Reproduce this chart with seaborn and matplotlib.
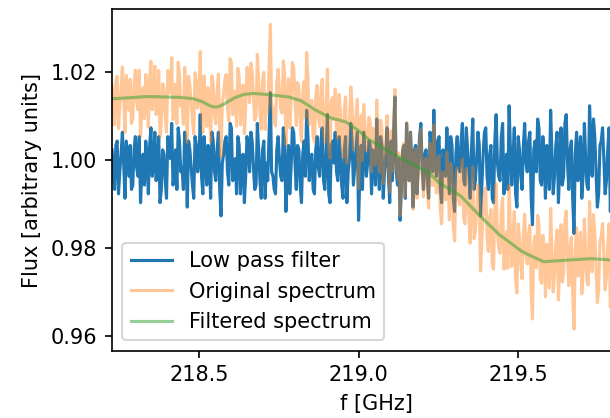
import matplotlib
matplotlib.use("Agg")
import matplotlib.pyplot as plt
import seaborn as sns
import numpy as np

# frequency channels of the spectrum (GHz)
freq = np.linspace(218.2256, 219.85, 400)

# high-frequency residual left after removing the smooth component
flux_lowpass = [
    1.0023, 0.9983, 0.9933, 1.0033, 1.0043, 0.9923, 0.9973, 1.0013, 1.0063, 0.9993,
    0.9913, 1.0043, 1.0003, 0.9963, 1.0033, 0.9933, 0.9943, 1.0023, 1.0053, 0.9983,
    0.9963, 1.0053, 0.9903, 0.9973, 1.0013, 0.9943, 1.0043, 1.0003, 0.9923, 1.0033,
    1.0073, 0.9963, 0.9983, 1.0063, 0.9953, 0.9993, 1.0053, 0.9903, 0.9933, 1.0023,
    1.0013, 0.9953, 0.9913, 1.0053, 1.0033, 1.0003, 1.0083, 0.9943, 0.9963, 1.0023,
    0.9933, 1.0073, 1.0043, 0.9973, 0.9983, 0.9933, 1.0063, 1.0013, 0.9893, 1.0043,
    1.0023, 0.9983, 0.9943, 0.9913, 1.0053, 1.0033, 0.9973, 0.9993, 1.0103, 0.9963,
    0.9923, 1.0053, 1.0003, 0.9943, 1.0033, 1.0013, 0.9913, 1.0063, 1.0043, 0.9973,
    0.9953, 1.0023, 1.0063, 0.9933, 0.9873, 0.9993, 1.0013, 1.0043, 1.0053, 0.9973,
    0.9943, 1.0083, 1.0073, 0.9953, 0.9963, 1.0003, 0.9923, 1.0053, 1.0033, 0.9923,
    1.0003, 1.0013, 0.9903, 0.9963, 1.0053, 1.0033, 0.9973, 1.0063, 1.0043, 0.9983,
    0.9933, 0.9943, 1.0083, 1.0023, 0.9953, 0.9913, 1.0023, 1.0043, 0.9913, 0.9993,
    0.9953, 1.0053, 1.0153, 0.9973, 0.9963, 0.9933, 0.9923, 1.0023, 1.0053, 1.0003,
    0.9963, 0.9953, 1.0073, 1.0043, 0.9883, 0.9973, 1.0033, 0.9923, 0.9983, 1.0073,
    1.0063, 0.9993, 0.9933, 1.0033, 1.0023, 0.9943, 0.9903, 1.0013, 1.0043, 0.9963,
    1.0113, 1.0053, 0.9953, 1.0003, 1.0013, 0.9933, 0.9923, 1.0023, 1.0053, 0.9983,
    0.9963, 1.0043, 1.0073, 0.9953, 0.9933, 1.0013, 1.0103, 0.9923, 0.9903, 1.0033,
    1.0043, 0.9993, 1.0063, 0.9973, 0.9953, 1.0053, 1.0013, 0.9943, 0.9913, 1.0023,
    1.0053, 0.9903, 0.9973, 1.0003, 1.0083, 1.0043, 0.9943, 0.9983, 1.0023, 1.0063,
    0.9863, 0.9963, 1.0033, 0.9933, 1.0063, 1.0013, 0.9963, 0.9993, 1.0043, 1.0033,
    0.9923, 1.0023, 1.0013, 0.9943, 1.0093, 1.0003, 0.9933, 1.0053, 1.0033, 0.9913,
    0.9973, 1.0013, 1.0073, 0.9963, 0.9903, 1.0043, 0.9953, 1.0063, 1.0143, 0.9973,
    0.9943, 1.0003, 0.9863, 0.9933, 1.0023, 1.0033, 0.9913, 1.0083, 1.0013, 0.9953,
    1.0063, 0.9993, 0.9893, 1.0023, 1.0033, 0.9923, 0.9983, 1.0053, 1.0083, 0.9983,
    0.9933, 1.0013, 1.0023, 0.9953, 0.9913, 1.0063, 1.0043, 0.9973, 1.0113, 0.9993,
    0.9963, 1.0043, 1.0053, 0.9933, 0.9903, 1.0023, 1.0003, 0.9963, 1.0073, 1.0003,
    0.9923, 1.0053, 1.0033, 0.9913, 0.9883, 1.0013, 1.0053, 0.9983, 0.9973, 1.0043,
    1.0083, 0.9953, 0.9943, 1.0073, 1.0023, 0.9973, 0.9913, 1.0023, 1.0093, 0.9933,
    0.9953, 1.0003, 1.0063, 1.0033, 0.9873, 0.9943, 1.0013, 1.0063, 1.0073, 0.9963,
    0.9933, 1.0013, 1.0033, 0.9913, 0.9903, 1.0043, 1.0103, 0.9993, 0.9963, 0.9953,
    1.0053, 1.0083, 0.9923, 0.9973, 1.0013, 0.9933, 1.0123, 1.0023, 0.9943, 1.0003,
    1.0073, 0.9923, 0.9893, 1.0053, 1.0023, 0.9963, 0.9933, 1.0033, 1.0083, 0.9993,
    0.9973, 1.0043, 1.0063, 0.9913, 0.9853, 1.0023, 1.0043, 0.9973, 1.0093, 1.0073,
    0.9953, 0.9943, 1.0053, 1.0003, 0.9913, 1.0033, 1.0013, 0.9933, 1.0113, 1.0013,
    0.9923, 0.9963, 1.0033, 1.0063, 0.9903, 0.9983, 1.0073, 0.9943, 0.9963, 1.0083,
    1.0103, 0.9993, 0.9933, 1.0023, 1.0043, 0.9913, 0.9833, 1.0013, 1.0063, 0.9953,
    1.0013, 1.0053, 0.9913, 0.9963, 1.0083, 1.0003, 0.9943, 0.9933, 1.0123, 1.0033,
    0.9963, 1.0093, 1.0053, 0.9973, 0.9893, 0.9923, 1.0033, 1.0043, 1.0073, 1.0003,
    0.9923, 0.9953, 1.0023, 1.0073, 0.9883, 0.9963, 1.0083, 1.0013, 0.9973, 0.9933,
    1.0053, 1.0033, 0.9903, 0.9983, 1.0113, 1.0063, 0.9953, 0.9943, 1.0043, 1.0013,
]

# the raw spectrum
flux_original = [
    1.0169, 1.0130, 1.0080, 1.0180, 1.0190, 1.0071, 1.0121, 1.0161, 1.0211, 1.0142,
    1.0062, 1.0192, 1.0152, 1.0113, 1.0183, 1.0083, 1.0093, 1.0174, 1.0204, 1.0134,
    1.0114, 1.0204, 1.0054, 1.0124, 1.0164, 1.0094, 1.0194, 1.0154, 1.0074, 1.0184,
    1.0224, 1.0114, 1.0133, 1.0213, 1.0103, 1.0143, 1.0203, 1.0053, 1.0083, 1.0173,
    1.0163, 1.0103, 1.0063, 1.0203, 1.0182, 1.0152, 1.0232, 1.0092, 1.0112, 1.0172,
    1.0082, 1.0222, 1.0192, 1.0122, 1.0131, 1.0081, 1.0210, 1.0160, 1.0040, 1.0190,
    1.0170, 1.0130, 1.0089, 1.0059, 1.0198, 1.0178, 1.0118, 1.0137, 1.0246, 1.0105,
    1.0063, 1.0191, 1.0138, 1.0076, 1.0164, 1.0143, 1.0041, 1.0191, 1.0170, 1.0101,
    1.0082, 1.0154, 1.0195, 1.0067, 1.0008, 1.0129, 1.0150, 1.0182, 1.0194, 1.0116,
    1.0088, 1.0230, 1.0221, 1.0103, 1.0114, 1.0156, 1.0077, 1.0208, 1.0189, 1.0080,
    1.0160, 1.0170, 1.0060, 1.0120, 1.0210, 1.0190, 1.0130, 1.0220, 1.0200, 1.0140,
    1.0090, 1.0100, 1.0240, 1.0180, 1.0110, 1.0070, 1.0179, 1.0199, 1.0069, 1.0149,
    1.0108, 1.0208, 1.0308, 1.0128, 1.0117, 1.0087, 1.0077, 1.0177, 1.0206, 1.0156,
    1.0116, 1.0106, 1.0225, 1.0195, 1.0035, 1.0125, 1.0184, 1.0073, 1.0132, 1.0221,
    1.0210, 1.0139, 1.0078, 1.0176, 1.0164, 1.0083, 1.0041, 1.0150, 1.0178, 1.0096,
    1.0244, 1.0182, 1.0080, 1.0128, 1.0135, 1.0054, 1.0042, 1.0141, 1.0169, 1.0098,
    1.0076, 1.0155, 1.0183, 1.0062, 1.0040, 1.0118, 1.0206, 1.0025, 1.0004, 1.0133,
    1.0142, 1.0092, 1.0161, 1.0070, 1.0049, 1.0149, 1.0108, 1.0037, 1.0006, 1.0115,
    1.0143, 0.9992, 1.0060, 1.0088, 1.0166, 1.0125, 1.0023, 1.0062, 1.0100, 1.0138,
    0.9936, 1.0034, 1.0101, 0.9999, 1.0126, 1.0074, 1.0021, 1.0049, 1.0097, 1.0085,
    0.9973, 1.0072, 1.0060, 0.9988, 1.0136, 1.0044, 0.9972, 1.0090, 1.0068, 0.9947,
    1.0005, 1.0043, 1.0101, 0.9989, 0.9927, 1.0066, 0.9974, 1.0082, 1.0160, 0.9989,
    0.9957, 1.0016, 0.9874, 0.9942, 1.0030, 1.0038, 0.9917, 1.0085, 1.0014, 0.9952,
    1.0061, 0.9989, 0.9888, 1.0016, 1.0025, 0.9913, 0.9972, 1.0040, 1.0069, 0.9967,
    0.9916, 0.9995, 1.0004, 0.9932, 0.9891, 1.0038, 1.0015, 0.9942, 1.0080, 0.9957,
    0.9925, 1.0002, 1.0009, 0.9887, 0.9855, 0.9973, 0.9951, 0.9909, 1.0018, 0.9946,
    0.9864, 0.9992, 0.9970, 0.9848, 0.9816, 0.9944, 0.9982, 0.9910, 0.9898, 0.9965,
    1.0002, 0.9868, 0.9855, 0.9981, 0.9928, 0.9874, 0.9811, 0.9917, 0.9984, 0.9821,
    0.9838, 0.9885, 0.9943, 0.9910, 0.9748, 0.9815, 0.9883, 0.9930, 0.9937, 0.9824,
    0.9792, 0.9869, 0.9887, 0.9764, 0.9752, 0.9889, 0.9946, 0.9833, 0.9801, 0.9788,
    0.9886, 0.9914, 0.9752, 0.9799, 0.9837, 0.9754, 0.9942, 0.9840, 0.9758, 0.9815,
    0.9883, 0.9730, 0.9698, 0.9855, 0.9823, 0.9761, 0.9730, 0.9828, 0.9877, 0.9785,
    0.9764, 0.9833, 0.9852, 0.9700, 0.9639, 0.9808, 0.9827, 0.9755, 0.9874, 0.9852,
    0.9731, 0.9720, 0.9829, 0.9779, 0.9689, 0.9809, 0.9789, 0.9709, 0.9890, 0.9790,
    0.9700, 0.9740, 0.9811, 0.9841, 0.9682, 0.9762, 0.9853, 0.9723, 0.9744, 0.9864,
    0.9884, 0.9774, 0.9715, 0.9805, 0.9825, 0.9695, 0.9616, 0.9796, 0.9846, 0.9736,
    0.9796, 0.9836, 0.9696, 0.9746, 0.9866, 0.9786, 0.9726, 0.9716, 0.9906, 0.9816,
    0.9746, 0.9876, 0.9836, 0.9756, 0.9676, 0.9706, 0.9816, 0.9826, 0.9856, 0.9786,
    0.9705, 0.9735, 0.9805, 0.9855, 0.9665, 0.9745, 0.9865, 0.9795, 0.9755, 0.9715,
    0.9835, 0.9815, 0.9685, 0.9765, 0.9895, 0.9845, 0.9735, 0.9725, 0.9825, 0.9795,
]

# smooth (filtered) spectrum
freq_filtered = [
    218.23, 218.34, 218.44, 218.48, 218.51, 218.53, 218.545, 218.56, 218.58, 218.61,
    218.64, 218.67, 218.72, 218.78, 218.82, 218.86, 218.91, 218.96, 219.00, 219.03,
    219.10, 219.16, 219.22, 219.25, 219.32, 219.38, 219.44, 219.51, 219.54, 219.58,
    219.66, 219.73, 219.79, 219.85,
]
flux_filtered = [
    1.0139, 1.0144, 1.0142, 1.0139, 1.0132, 1.0124, 1.0120, 1.0121, 1.0128, 1.0141,
    1.0149, 1.0151, 1.0148, 1.0143, 1.0134, 1.0115, 1.0096, 1.0086, 1.0066, 1.0047,
    1.0017, 0.9994, 0.9971, 0.9949, 0.9918, 0.9873, 0.9831, 0.9793, 0.9782, 0.9769,
    0.9773, 0.9776, 0.9773, 0.9773,
]

fig = plt.figure(figsize=(610 / 150, 418 / 150), dpi=150)
# the original picture is cropped on the right, so the axes run past the edge
ax = fig.add_axes([112 / 610, 67.3 / 418, 528 / 610, 341.4 / 418])

sns.lineplot(x=freq, y=flux_lowpass, ax=ax, color="C0", lw=1.5, label="Low pass filter")
sns.lineplot(x=freq, y=flux_original, ax=ax, color="C1", lw=1.5, alpha=0.43, label="Original spectrum")
sns.lineplot(x=freq_filtered, y=flux_filtered, ax=ax, color="C2", lw=1.5, alpha=0.5, label="Filtered spectrum")

ax.set_xlim(218.2256, 219.882)
ax.set_ylim(0.9567, 1.0342)
ax.set_xticks([218.5, 219.0, 219.5])
ax.set_yticks([0.96, 0.98, 1.00, 1.02])
ax.set_xlabel("f [GHz]")
ax.set_ylabel("Flux [arbitrary units]")
ax.legend(loc="lower left")

fig.savefig("out.png", dpi=150, facecolor="white")
